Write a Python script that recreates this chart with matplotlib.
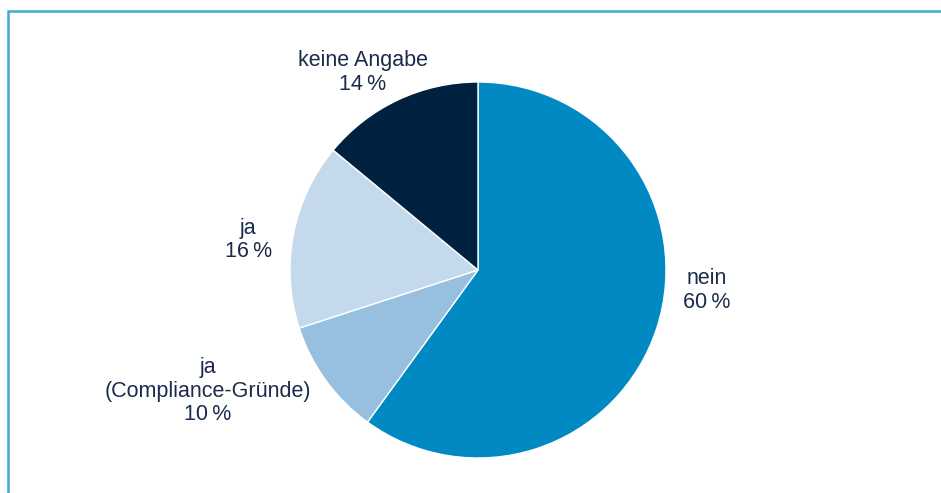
import matplotlib.pyplot as plt
from matplotlib.patches import Rectangle

# Antworten (Anteil in Prozent), im Uhrzeigersinn ab 12 Uhr
categories = ['nein', 'ja\n(Compliance-Gründe)', 'ja', 'keine Angabe']
values = [60, 10, 16, 14]
colors = ['#0089c2', '#97c0e0', '#c4daec', '#00213f']

# Lage der Beschriftungen relativ zum Kreisradius
label_pos = [(1.218, -0.11), (-1.436, -0.645), (-1.223, 0.16), (-0.612, 1.05)]

text_color = '#1b2b4b'
plt.rcParams['font.family'] = ['Liberation Sans', 'DejaVu Sans']

fig = plt.figure(figsize=(9.41, 4.93), dpi=100)
ax = fig.add_axes([0, 0, 1, 1])

r_px = 188.0
cx, cy = 478.0, 270.0
ax.set_xlim(-cx / r_px, (941 - cx) / r_px)
ax.set_ylim(-(493 - cy) / r_px, cy / r_px)
ax.axis('off')

wedges, _ = ax.pie(values,
                   colors=colors,
                   startangle=90,
                   counterclock=False,
                   radius=1.0,
                   wedgeprops={'linewidth': 1.0, 'edgecolor': 'white'})
ax.set_xlim(-cx / r_px, (941 - cx) / r_px)
ax.set_ylim(-(493 - cy) / r_px, cy / r_px)
ax.set_aspect('auto')

for cat, val, (x, y) in zip(categories, values, label_pos):
    ax.text(x, y, f'{cat}\n{val}\u2009%', ha='center', va='center',
            fontsize=15.5, color=text_color, linespacing=1.15)

# hellblauer Rahmen oben und links
frame = Rectangle((8 / 941, -0.1), 1.2, (493 - 11) / 493 + 0.1,
                  transform=fig.transFigure, fill=False,
                  edgecolor='#3fa9d4', linewidth=1.8, clip_on=False)
fig.patches.append(frame)

fig.savefig('out.png', dpi=100)
plt.close(fig)
